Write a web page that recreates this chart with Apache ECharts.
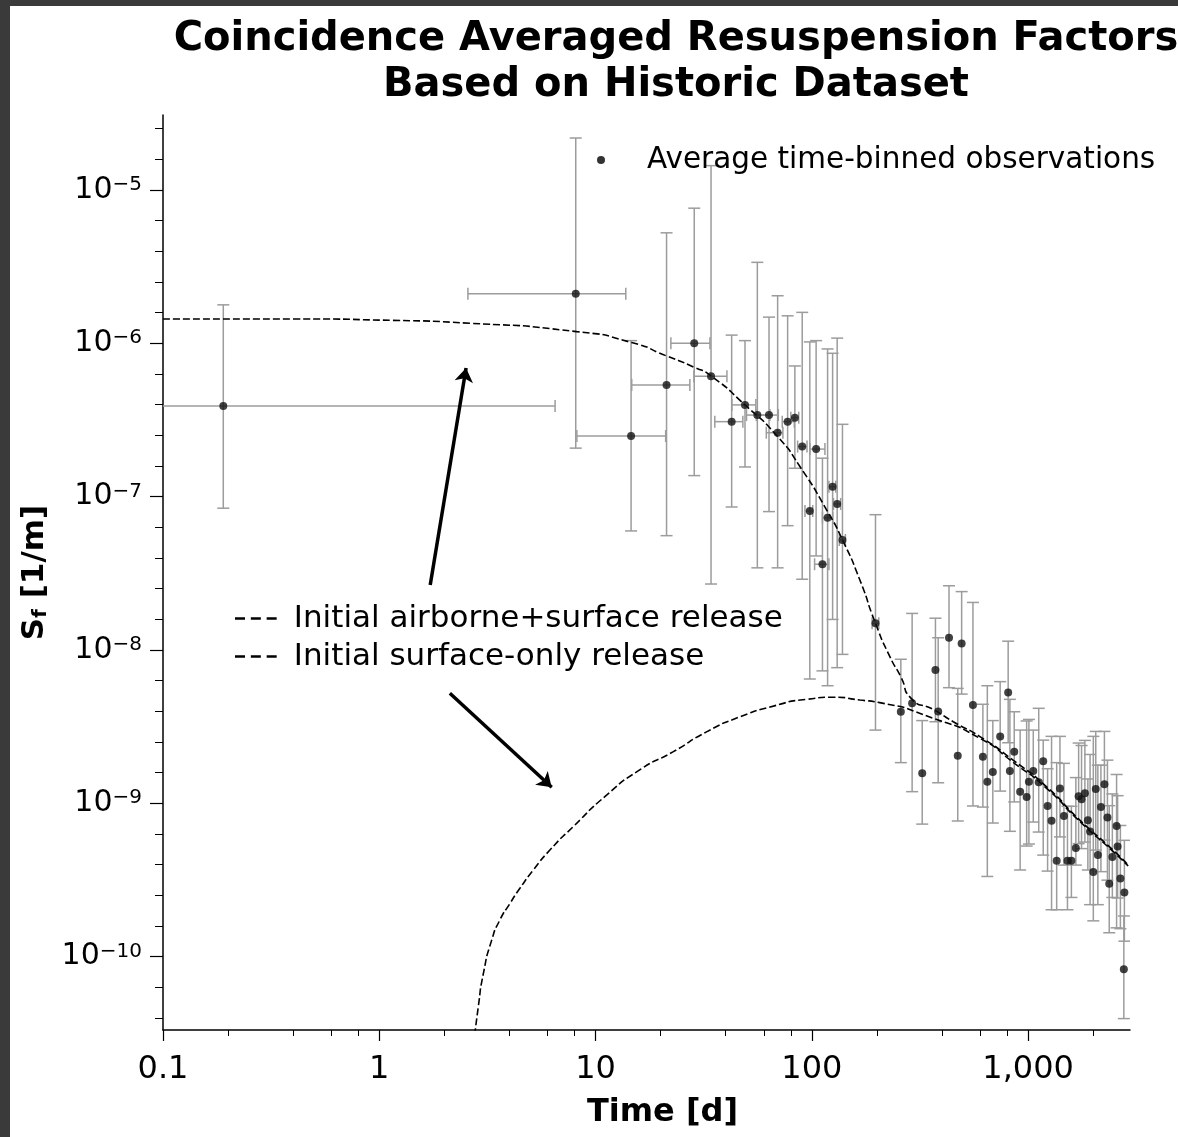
<!DOCTYPE html>
<html>
  <head>
    <meta charset="utf-8" />
    <title>Coincidence Averaged Resuspension Factors</title>
    <script src="https://cdn.jsdelivr.net/npm/echarts@6/dist/echarts.min.js"></script>
    <style>
      html, body { margin: 0; padding: 0; background: #fff; }
      #chart { width: 1178px; height: 1137px; }
    </style>
  </head>
  <body>
    <div id="chart"></div>
    <script type="text/javascript">
      // Average time-binned observations: bin centre [d], Sf [1/m],
      // Sf error range and time-bin range (only the first bins have one)
      var obsTime = [0.19, 8.1, 14.6, 21.3, 28.6, 34.2, 42.6, 49.1, 56, 63.4,
        69.5, 77.3, 83.5, 90.3, 97.9, 104.7, 112, 118.3, 124.8, 131,
        138.6, 197, 258, 291, 324, 373, 384, 431, 473, 493,
        556, 618, 648, 687, 743, 809, 824, 863, 919, 985,
        1009, 1057, 1120, 1175, 1231, 1284, 1356, 1404, 1465, 1521,
        1586, 1663, 1713, 1767, 1831, 1890, 1935, 2003, 2056, 2102,
        2172, 2254, 2328, 2373, 2453, 2566, 2594, 2672, 2772, 2788];
      var obsSf = [3.9e-7, 2.1e-6, 2.48e-7, 5.35e-7, 1.0e-6, 6.1e-7, 3.08e-7, 3.96e-7, 3.4e-7, 3.4e-7,
        2.61e-7, 3.08e-7, 3.27e-7, 2.12e-7, 8.05e-8, 2.04e-7, 3.62e-8, 7.28e-8, 1.16e-7, 8.95e-8,
        5.21e-8, 1.49e-8, 3.95e-9, 4.49e-9, 1.57e-9, 7.4e-9, 3.96e-9, 1.2e-8, 2.04e-9, 1.1e-8,
        4.37e-9, 2.01e-9, 1.38e-9, 1.6e-9, 2.72e-9, 5.28e-9, 1.62e-9, 2.17e-9, 1.19e-9, 1.1e-9,
        1.38e-9, 1.62e-9, 1.37e-9, 1.88e-9, 9.59e-10, 7.69e-10, 4.22e-10, 1.25e-9, 8.25e-10, 4.22e-10,
        4.22e-10, 5.1e-10, 1.11e-9, 1.06e-9, 1.16e-9, 7.76e-10, 6.53e-10, 3.56e-10, 1.24e-9, 4.59e-10,
        9.46e-10, 1.33e-9, 8.07e-10, 2.99e-10, 4.46e-10, 7.1e-10, 5.22e-10, 3.23e-10, 8.28e-11, 2.62e-10];
      var obsSfLow = [8.4e-8, 2.07e-7, 5.97e-8, 5.56e-8, 1.37e-7, 2.69e-8, 8.55e-8, 1.56e-7, 3.43e-8, 7.98e-8,
        3.43e-8, 6.46e-8, 1.53e-7, 2.89e-8, 6.46e-9, 4.1e-8, 7.3e-9, 5.84e-9, 1.58e-8, 7.66e-9,
        9.35e-9, 3.0e-9, 1.84e-9, 1.19e-9, 7.31e-10, 3.4e-9, 1.36e-9, 5.67e-9, 7.66e-10, 5.15e-9,
        9.6e-10, 9.44e-10, 3.33e-10, 7.43e-10, 1.2e-9, 2.48e-9, 6.56e-10, 1.02e-9, 3.67e-10, 5.26e-10,
        5.42e-10, 7.54e-10, 6.49e-10, 4.59e-10, 3.61e-10, 2.02e-10, 2.02e-10, 6.03e-10, 3.95e-10, 2.02e-10,
        2.43e-10, 3.95e-10, 5.45e-10, 5.06e-10, 5.58e-10, 3.67e-10, 2.18e-10, 1.71e-10, 4.95e-10, 2.18e-10,
        3.58e-10, 5.75e-10, 3.15e-10, 1.43e-10, 2.43e-10, 1.54e-10, 2.41e-10, 1.52e-10, 3.94e-11, 1.26e-10];
      var obsSfHigh = [1.78e-6, 2.18e-5, 1.04e-6, 5.25e-6, 7.6e-6, 1.44e-5, 1.13e-6, 1.04e-6, 3.37e-6, 1.48e-6,
        2.04e-6, 1.51e-6, 7.11e-7, 1.59e-6, 1.02e-6, 1.04e-6, 1.78e-7, 9.18e-7, 8.6e-7, 1.08e-6,
        2.96e-7, 7.62e-8, 8.69e-9, 1.73e-8, 3.46e-9, 1.61e-8, 1.2e-8, 2.62e-8, 5.61e-9, 2.4e-8,
        2.04e-8, 4.42e-9, 5.84e-9, 3.46e-9, 6.21e-9, 1.14e-8, 4.76e-9, 3.95e-9, 3.0e-9, 3.44e-9,
        3.52e-9, 3.0e-9, 4.16e-9, 2.58e-9, 1.68e-9, 2.73e-9, 1.84e-9, 2.73e-9, 1.82e-9, 9.55e-10,
        9.55e-10, 1.47e-9, 2.47e-9, 2.38e-9, 2.57e-9, 1.44e-9, 2.08e-9, 2.73e-9, 2.94e-9, 1.77e-9,
        1.77e-9, 2.94e-9, 1.91e-9, 9.64e-10, 1.15e-9, 1.54e-9, 1.12e-9, 7.16e-10, 1.84e-10, 5.73e-10];
      var obsTimeLow = [0.006, 2.57, 8.2, 14.7, 22.3, 28.5, 35.6, 42.7, 49.9, 55.4,
        61.6, 73, 80, 86, 93, 98, 103, 112, 120, 126,
        134, 190];
      var obsTimeHigh = [6.5, 13.8, 21.1, 27.3, 33.8, 40.5, 48, 55.1, 64, 70,
        73.5, 83, 87, 95, 101, 115, 120, 125, 129, 136,
        143, 204];

      // Model curves
      var fitTime1 = [0.1, 0.4, 1.16, 2.62, 8.18, 14.7, 21.3, 28.6, 34.2, 49.1,
        69.5, 88.1, 117, 138.7, 166.8, 197, 229.6, 258, 288, 368,
        451, 599, 853, 1218, 1735, 2472, 2902];
      var fitSf1 = [1.44e-6, 1.44e-6, 1.41e-6, 1.35e-6, 1.19e-6, 1.01e-6, 8.26e-7, 6.97e-7, 6.12e-7, 3.96e-7,
        2.46e-7, 1.57e-7, 8.2e-8, 5.21e-8, 2.86e-8, 1.49e-8, 9.03e-9, 6.68e-9, 4.83e-9, 4.06e-9,
        3.4e-9, 2.72e-9, 1.91e-9, 1.28e-9, 7.76e-10, 4.95e-10, 3.95e-10];
      var fitTime2 = [2.73, 2.87, 3.03, 3.31, 3.61, 4.02, 4.47, 5.15, 6.15, 7.88,
        11.25, 16.0, 22.9, 32.6, 46.5, 66.4, 94.6, 125.6, 166.8, 206,
        364, 599, 853, 1218, 1735, 2472, 2902];
      var fitSf2 = [2.65e-11, 4.7e-11, 7.76e-11, 1.28e-10, 1.73e-10, 2.22e-10, 2.79e-10, 3.66e-10, 4.95e-10, 7.03e-10,
        1.13e-9, 1.65e-9, 2.17e-9, 2.92e-9, 3.66e-9, 4.3e-9, 4.76e-9, 4.91e-9, 4.71e-9, 4.53e-9,
        3.58e-9, 2.65e-9, 1.85e-9, 1.25e-9, 7.6e-10, 4.85e-10, 3.9e-10];

      // Annotation arrows (tail, head)
      var arrowToAirborne = [[1.72, 2.65e-8], [2.52, 6.9e-7]];
      var arrowToSurface = [[2.12, 5.21e-9], [6.27, 1.27e-9]];

      // Axes: range, labelled ticks and minor ticks
      var xRange = [0.1, 2960];
      var yRange = [3.32e-11, 3.08e-5];
      var xTicks = [0.1, 1, 10, 100, 1000];
      var yTicks = [1e-10, 1e-9, 1e-8, 1e-7, 1e-6, 1e-5];
      var xMinorTicks = [0.2, 0.4, 0.6, 0.8, 2, 4, 6, 8, 20, 40, 60, 80, 200, 400, 600, 800, 2000];
      var yMinorTicks = [3.981e-11, 6.31e-11, 1.585e-10, 2.512e-10, 3.981e-10, 6.31e-10,
        1.585e-9, 2.512e-9, 3.981e-9, 6.31e-9, 1.585e-8, 2.512e-8, 3.981e-8, 6.31e-8,
        1.585e-7, 2.512e-7, 3.981e-7, 6.31e-7, 1.585e-6, 2.512e-6, 3.981e-6, 6.31e-6,
        1.585e-5, 2.512e-5];

      var FONT = "'DejaVu Sans', sans-serif";
      var DASH_ICON = 'path://M0,0h12v3h-12z M19,0h12v3h-12z M38,0h12v3h-12z';

      function pairs(xs, ys) {
        return xs.map(function (x, i) { return [x, ys[i]]; });
      }

      var errData = obsTime.map(function (t, i) {
        return [t, obsSf[i], obsSfLow[i], obsSfHigh[i],
          i < obsTimeLow.length ? obsTimeLow[i] : null,
          i < obsTimeHigh.length ? obsTimeHigh[i] : null];
      });

      function renderErrorBar(params, api) {
        var t = api.value(0), sf = api.value(1);
        var top = api.coord([t, api.value(3)]);
        var bot = api.coord([t, api.value(2)]);
        var cap = 6;
        var style = { stroke: '#9c9c9c', lineWidth: 1.5, fill: null };
        var kids = [
          { type: 'line', shape: { x1: top[0], y1: top[1], x2: bot[0], y2: bot[1] }, style: style },
          { type: 'line', shape: { x1: top[0] - cap, y1: top[1], x2: top[0] + cap, y2: top[1] }, style: style },
          { type: 'line', shape: { x1: bot[0] - cap, y1: bot[1], x2: bot[0] + cap, y2: bot[1] }, style: style }
        ];
        var tl = api.value(4), th = api.value(5);
        if (isFinite(tl) && isFinite(th) && tl > 0 && th > 0) {
          var l = api.coord([tl, sf]);
          var r = api.coord([th, sf]);
          kids.push({ type: 'line', shape: { x1: l[0], y1: l[1], x2: r[0], y2: r[1] }, style: style });
          kids.push({ type: 'line', shape: { x1: l[0], y1: l[1] - cap, x2: l[0], y2: l[1] + cap }, style: style });
          kids.push({ type: 'line', shape: { x1: r[0], y1: r[1] - cap, x2: r[0], y2: r[1] + cap }, style: style });
        }
        return { type: 'group', children: kids };
      }

      var axisLineStyle = { color: '#000', width: 1.5 };

      var myChart = echarts.init(document.getElementById('chart'));

      var options = {
        backgroundColor: '#fff',
        animation: false,
        title: {
          text: 'Coincidence Averaged Resuspension Factors\nBased on Historic Dataset',
          left: 671,
          top: 12,
          textAlign: 'center',
          textStyle: { fontFamily: FONT, fontWeight: 'bold', fontSize: 40, lineHeight: 46, color: '#000' }
        },
        graphic: [
          { type: 'rect', shape: { x: 0, y: 0, width: 10, height: 1137 }, style: { fill: '#3a3a3a' }, z: 100 },
          { type: 'rect', shape: { x: 0, y: 0, width: 1178, height: 6 }, style: { fill: '#3a3a3a' }, z: 100 }
        ],
        legend: [{
          data: [{ name: 'Average time-binned observations', icon: 'circle' }],
          left: 592,
          top: 140,
          itemWidth: 8,
          itemHeight: 8,
          selectedMode: false,
          itemStyle: { color: '#000' },
          textStyle: { fontFamily: FONT, fontSize: 29.5, color: '#000', padding: [0, 0, 0, 37] }
        }, {
          data: [
            { name: 'Initial airborne+surface release', icon: DASH_ICON },
            { name: 'Initial surface-only release', icon: DASH_ICON }
          ],
          orient: 'vertical',
          left: 230,
          top: 598,
          itemWidth: 50,
          itemHeight: 2.5,
          itemGap: 7,
          selectedMode: false,
          itemStyle: { color: '#000' },
          textStyle: { fontFamily: FONT, fontSize: 31, color: '#000', padding: [0, 0, 0, 8] }
        }],
        grid: { left: 163, right: 48, top: 115, bottom: 107 },
        xAxis: [{
          type: 'log',
          min: xRange[0],
          max: xRange[1],
          name: 'Time [d]',
          nameLocation: 'middle',
          nameGap: 67,
          nameTextStyle: { fontFamily: FONT, fontWeight: 'bold', fontSize: 32, color: '#000', padding: [0, 0, 0, 32] },
          axisLine: { lineStyle: axisLineStyle },
          axisTick: { customValues: xTicks, length: 11, lineStyle: { color: '#000', width: 1.2 } },
          splitLine: { show: false },
          axisLabel: {
            customValues: xTicks,
            margin: 24,
            fontFamily: FONT,
            fontSize: 32,
            color: '#000',
            formatter: function (v) {
              return v >= 1000 ? v.toLocaleString('en-US') : String(v);
            }
          }
        }, {
          // second bottom axis only carries the 2-4-6-8 minor ticks
          type: 'log',
          min: xRange[0],
          max: xRange[1],
          position: 'bottom',
          offset: 0,
          axisLine: { show: false },
          axisTick: { customValues: xMinorTicks, length: 6, lineStyle: { color: '#000', width: 1 } },
          axisLabel: { show: false },
          splitLine: { show: false }
        }],
        yAxis: [{
          type: 'log',
          min: yRange[0],
          max: yRange[1],
          name: '{b|S}{f|f}{b| [1/m]}',
          nameLocation: 'middle',
          nameGap: 112,
          nameTextStyle: {
            rich: {
              b: { fontFamily: FONT, fontWeight: 'bold', fontSize: 31, color: '#000' },
              f: { fontFamily: FONT, fontWeight: 'bold', fontSize: 20, color: '#000', verticalAlign: 'bottom' }
            }
          },
          axisLine: { lineStyle: axisLineStyle },
          axisTick: { customValues: yTicks, length: 13, lineStyle: { color: '#000', width: 1.2 } },
          splitLine: { show: false },
          axisLabel: {
            customValues: yTicks,
            margin: 21,
            formatter: function (v) {
              return '{b|10}{s|\u2212' + (-Math.round(Math.log10(v))) + '}';
            },
            rich: {
              b: { fontFamily: FONT, fontSize: 30, color: '#000' },
              s: { fontFamily: FONT, fontSize: 20, color: '#000', verticalAlign: 'top' }
            }
          }
        }, {
          // second left axis only carries the minor ticks
          type: 'log',
          min: yRange[0],
          max: yRange[1],
          position: 'left',
          offset: 0,
          axisLine: { show: false },
          axisTick: { customValues: yMinorTicks, length: 8, lineStyle: { color: '#000', width: 1 } },
          axisLabel: { show: false },
          splitLine: { show: false }
        }],
        series: [{
          name: 'error bars',
          type: 'custom',
          clip: true,
          z: 1,
          silent: true,
          data: errData,
          renderItem: renderErrorBar
        }, {
          name: 'Initial airborne+surface release',
          type: 'line',
          data: pairs(fitTime1, fitSf1),
          symbol: 'none',
          smooth: 0.7,
          z: 3,
          itemStyle: { color: '#000' },
          lineStyle: { color: '#000', width: 1.6, type: [7, 3] }
        }, {
          name: 'Initial surface-only release',
          type: 'line',
          data: pairs(fitTime2, fitSf2),
          symbol: 'none',
          smooth: 0.7,
          z: 3,
          itemStyle: { color: '#000' },
          lineStyle: { color: '#000', width: 1.6, type: [7, 3] }
        }, {
          name: 'Average time-binned observations',
          type: 'scatter',
          data: pairs(obsTime, obsSf),
          symbol: 'circle',
          symbolSize: 8,
          z: 4,
          itemStyle: { color: '#111' }
        }, {
          name: 'arrows',
          type: 'lines',
          coordinateSystem: 'cartesian2d',
          z: 5,
          symbol: ['none', 'arrow'],
          symbolSize: 14,
          lineStyle: { color: '#000', width: 3.5, opacity: 1 },
          data: [{ coords: arrowToAirborne }, { coords: arrowToSurface }]
        }]
      };
      myChart.setOption(options);
    </script>
  </body>
</html>
